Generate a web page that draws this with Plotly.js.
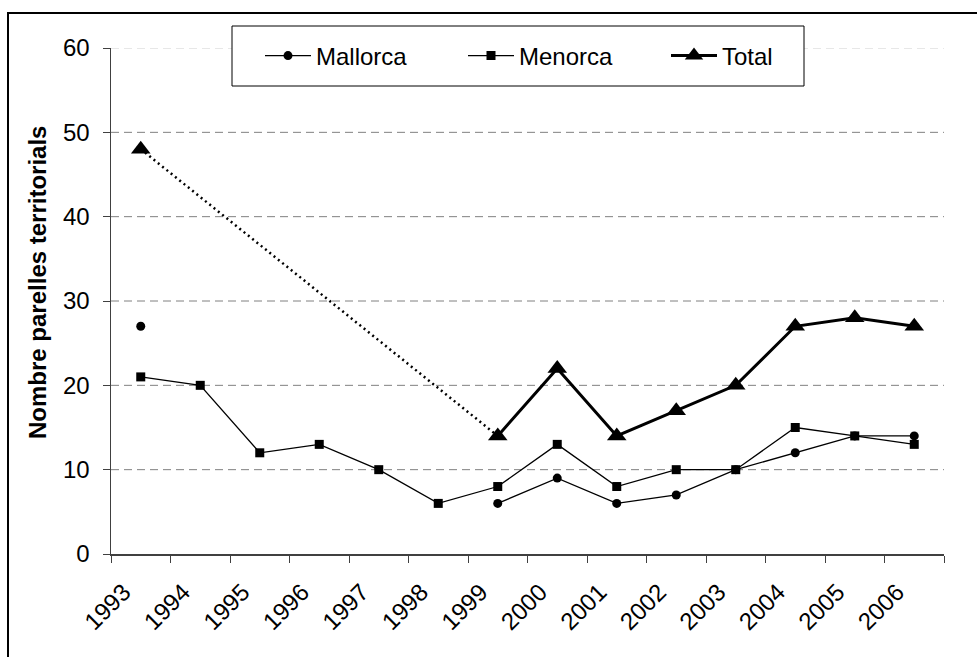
<!DOCTYPE html>
<html>
<head>
<meta charset="utf-8">
<script src="https://cdn.plot.ly/plotly-3.0.1.min.js"></script>
<style>html,body{margin:0;padding:0;background:#fff;}#chart{width:977px;height:657px;}</style>
</head>
<body>
<div id="chart"></div>
<script>
var years = ['1993','1994','1995','1996','1997','1998','1999','2000','2001','2002','2003','2004','2005','2006'];
var mallorca = [27, null, null, null, null, null, 6, 9, 6, 7, 10, 12, 14, 14];
var menorca = [21, 20, 12, 13, 10, 6, 8, 13, 8, 10, 10, 15, 14, 13];
var total = [48, null, null, null, null, null, 14, 22, 14, 17, 20, 27, 28, 27];
var totalGapYears = ['1993', '1999'];
var totalGapValues = [48, 14];
var yTicks = [0, 10, 20, 30, 40, 50, 60];
var yTitle = 'Nombre parelles territorials';

var FONT = 'Arial, "Liberation Sans", sans-serif';
var M = {l: 111, r: 33, t: 48, b: 103};
var W = 977, H = 657;
var pw = W - M.l - M.r, ph = H - M.t - M.b;
function px(x) { return (x - M.l) / pw; }
function py(y) { return (H - M.b - y) / ph; }

var traces = [
  {x: years, y: mallorca, name: 'Mallorca', type: 'scatter', mode: 'lines+markers',
   line: {color: '#000', width: 1.3}, marker: {symbol: 'circle', size: 9, color: '#000'},
   connectgaps: false},
  {x: years, y: menorca, name: 'Menorca', type: 'scatter', mode: 'lines+markers',
   line: {color: '#000', width: 1.3}, marker: {symbol: 'square', size: 9, color: '#000'}},
  {x: totalGapYears, y: totalGapValues, name: 'Total (gap)', type: 'scatter', mode: 'lines',
   line: {color: '#000', width: 2.5, dash: '2px,3.5px'}, showlegend: false},
  {x: years, y: total, name: 'Total', type: 'scatter', mode: 'lines+markers',
   line: {color: '#000', width: 3}, marker: {symbol: 'triangle-up', size: 17, color: '#000'},
   connectgaps: false}
];

var shapes = [];
yTicks.forEach(function (v) {
  if (v === 0) return;
  shapes.push({type: 'line', xref: 'paper', yref: 'y', x0: 0, x1: 1, y0: v, y1: v,
    line: {color: v === 60 ? '#d0d0d0' : '#808080', width: 1, dash: '8px,5px'}, layer: 'below'});
});
// legend box
shapes.push({type: 'rect', xref: 'paper', yref: 'paper', x0: px(232), x1: px(804), y0: py(26), y1: py(86),
  line: {color: '#000', width: 1}, fillcolor: '#fff', layer: 'above'});
// outer chart border
shapes.push({type: 'rect', xref: 'paper', yref: 'paper', x0: px(8), x1: px(990), y0: py(13), y1: py(700),
  line: {color: '#000', width: 2}, fillcolor: 'rgba(0,0,0,0)'});

var layout = {
  width: W, height: H,
  margin: M,
  paper_bgcolor: '#fff', plot_bgcolor: '#fff',
  font: {family: FONT, size: 24, color: '#000'},
  showlegend: true,
  legend: {orientation: 'h', x: px(260), xanchor: 'left', y: py(56), yanchor: 'middle',
    bgcolor: 'rgba(0,0,0,0)', borderwidth: 0, font: {family: FONT, size: 24, color: '#000'},
    itemwidth: 46, entrywidth: 142, traceorder: 'normal'},
  xaxis: {type: 'category', categoryarray: years, range: [-0.5, 13.5],
    showline: true, linecolor: '#404040', linewidth: 1.5,
    ticks: 'outside', tickson: 'boundaries', ticklen: 7, tickcolor: '#404040', tickwidth: 1,
    tickangle: -45, tickfont: {family: FONT, size: 24, color: '#000'},
    ticklabelstandoff: 13, ticklabelshift: -17,
    showgrid: false, zeroline: false, fixedrange: true},
  yaxis: {range: [0, 60], tickvals: yTicks, ticktext: yTicks.map(String),
    showline: true, linecolor: '#404040', linewidth: 1.5,
    ticks: 'outside', ticklen: 7, tickcolor: '#404040', tickwidth: 1,
    tickfont: {family: FONT, size: 24, color: '#000'}, ticklabelstandoff: 8,
    showgrid: false, zeroline: false, fixedrange: true},
  annotations: [{text: yTitle, textangle: -90, xref: 'paper', yref: 'paper',
    x: px(37), y: py(283), xanchor: 'center', yanchor: 'middle', showarrow: false,
    font: {family: FONT, size: 24, color: '#000', weight: 'bold'}}],
  shapes: shapes
};

Plotly.newPlot('chart', traces, layout, {staticPlot: true, displayModeBar: false});
</script>
</body>
</html>
